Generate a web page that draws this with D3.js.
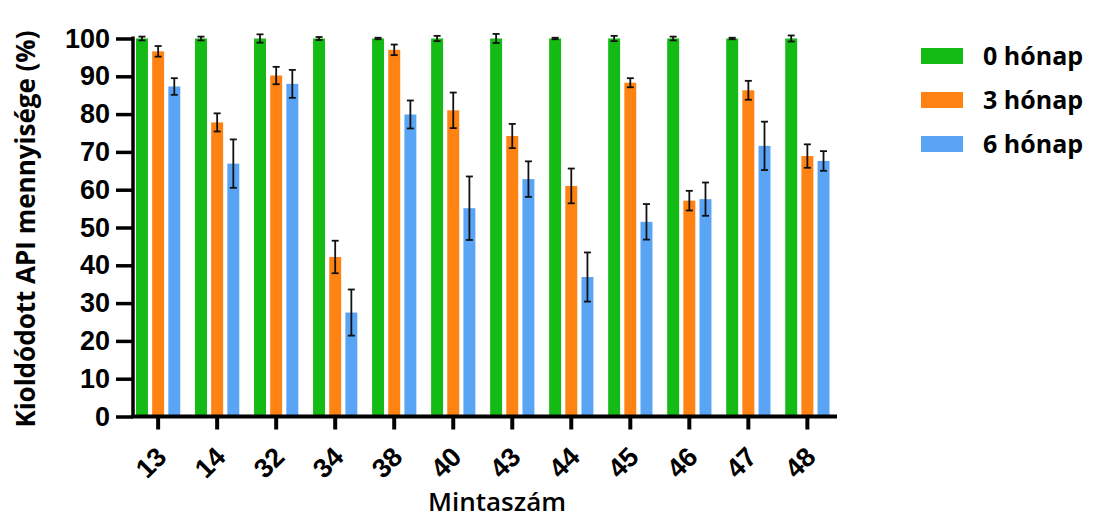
<!DOCTYPE html>
<html>
<head>
<meta charset="utf-8">
<script src="https://cdn.jsdelivr.net/npm/d3@7"></script>
<style>
  body { margin: 0; background: #fff; }
  svg { display: block; font-family: "Open Sans", Arial, sans-serif; }
</style>
</head>
<body>
<div id="chart"></div>
<script>
// Adatok
const minták = ['13', '14', '32', '34', '38', '40', '43', '44', '45', '46', '47', '48'];
const sorozatok = ['0 hónap', '3 hónap', '6 hónap'];
const honap0 = [100, 100, 100, 100, 100, 100, 100, 100, 100, 100, 100, 100];
const honap0Err = [0.5, 0.5, 1.1, 0.4, 0.2, 0.7, 1.2, 0.2, 0.7, 0.5, 0.2, 0.8];
const honap3 = [96.6, 77.8, 90.2, 42.2, 97.0, 81.0, 74.2, 61.0, 88.3, 57.1, 86.3, 68.9];
const honap3Err = [1.4, 2.4, 2.3, 4.3, 1.4, 4.7, 3.2, 4.6, 1.2, 2.6, 2.5, 3.1];
const honap6 = [87.3, 66.9, 88.0, 27.5, 79.9, 55.1, 62.8, 36.9, 51.5, 57.5, 71.6, 67.6];
const honap6Err = [2.2, 6.4, 3.7, 6.1, 3.7, 8.4, 4.7, 6.5, 4.7, 4.4, 6.4, 2.6];
const yTicks = [0, 10, 20, 30, 40, 50, 60, 70, 80, 90, 100];

const COLORS = ['#15bb15', '#ff8312', '#5aa4f6'];

const ertekek = [honap0, honap3, honap6];
const hibak = [honap0Err, honap3Err, honap6Err];

let data = [];
minták.forEach(function(m, i) {
    sorozatok.forEach(function(s, j) {
        data.push({minta: m, sor: s, v: ertekek[j][i], e: hibak[j][i]});
    });
});

const W = 1096, H = 520;
const axisX = 133, axisY = 416.5;

let svg = d3.select('#chart').append('svg')
    .attr('width', W).attr('height', H);

let x = d3.scaleBand()
    .domain(minták)
    .range([136, 829.5])
    .paddingInner(0.25)
    .paddingOuter(0);

let xSub = d3.scaleBand()
    .domain(sorozatok)
    .range([0, x.bandwidth()])
    .paddingInner(0.26);

let y = d3.scaleLinear()
    .domain([0, 100])
    .range([axisY, 38.5]);

let color = d3.scaleOrdinal().domain(sorozatok).range(COLORS);

// Oszlopok
svg.append('g')
    .selectAll('rect')
    .data(data)
    .enter()
    .append('rect')
        .attr('x', function(d) { return x(d.minta) + xSub(d.sor); })
        .attr('y', function(d) { return y(d.v); })
        .attr('width', xSub.bandwidth())
        .attr('height', function(d) { return y(0) - y(d.v); })
        .attr('fill', function(d) { return color(d.sor); });

// Hibasávok
let eb = svg.append('g')
    .attr('stroke', '#111')
    .attr('stroke-width', 1.8)
    .selectAll('g')
    .data(data)
    .enter()
    .append('g');

eb.append('line')
    .attr('x1', function(d) { return x(d.minta) + xSub(d.sor) + xSub.bandwidth() / 2; })
    .attr('x2', function(d) { return x(d.minta) + xSub(d.sor) + xSub.bandwidth() / 2; })
    .attr('y1', function(d) { return y(d.v + d.e); })
    .attr('y2', function(d) { return y(Math.max(0, d.v - d.e)); });

[1, -1].forEach(function(s) {
    eb.append('line')
        .attr('x1', function(d) { return x(d.minta) + xSub(d.sor) + xSub.bandwidth() / 2 - 3.5; })
        .attr('x2', function(d) { return x(d.minta) + xSub(d.sor) + xSub.bandwidth() / 2 + 3.5; })
        .attr('y1', function(d) { return y(d.v + s * d.e); })
        .attr('y2', function(d) { return y(d.v + s * d.e); });
});

// Y tengely
let yAxis = svg.append('g')
    .attr('transform', 'translate(' + axisX + ',0)')
    .call(d3.axisLeft(y).tickValues(yTicks).tickSize(17).tickPadding(6));
yAxis.select('.domain').attr('stroke', '#000').attr('stroke-width', 3.5)
    .attr('d', 'M0,' + (y(100) - 2) + 'V' + (axisY + 1.5));
yAxis.selectAll('.tick line').attr('stroke', '#000').attr('stroke-width', 3.5);
yAxis.selectAll('.tick text')
    .attr('fill', '#000')
    .style('font-family', 'Arial, "Liberation Sans", sans-serif')
    .style('font-size', '27px')
    .style('font-weight', 'bold');

// X tengely
let xAxis = svg.append('g')
    .attr('transform', 'translate(0,' + axisY + ')')
    .call(d3.axisBottom(x).tickSize(13).tickPadding(0));
xAxis.select('.domain').attr('stroke', '#000').attr('stroke-width', 4)
    .attr('d', 'M' + (axisX - 1.5) + ',0H837');
xAxis.selectAll('.tick line').attr('stroke', '#000').attr('stroke-width', 4);
xAxis.selectAll('.tick text')
    .attr('fill', '#000')
    .style('font-size', '27px')
    .style('font-weight', '600')
    .style('text-anchor', 'end')
    .attr('y', 0)
    .attr('dy', '0')
    .attr('transform', 'translate(10,42) rotate(-45)');

// Tengelycímek
svg.append('text')
    .attr('transform', 'translate(35,229) rotate(-90)')
    .attr('text-anchor', 'middle')
    .style('font-size', '26px')
    .style('font-weight', '700')
    .text('Kioldódott API mennyisége (%)');

svg.append('text')
    .attr('x', 497)
    .attr('y', 511)
    .attr('text-anchor', 'middle')
    .style('font-size', '26px')
    .style('font-weight', '600')
    .text('Mintaszám');

// Jelmagyarázat
let legend = svg.append('g')
    .selectAll('g')
    .data(sorozatok)
    .enter()
    .append('g')
    .attr('transform', function(d, i) { return 'translate(921,' + (56 + i * 44) + ')'; });

legend.append('rect')
    .attr('x', 0).attr('y', -8)
    .attr('width', 42).attr('height', 16)
    .attr('fill', function(d) { return color(d); });

legend.append('text')
    .attr('x', 62)
    .attr('y', 9)
    .style('font-size', '25px')
    .style('font-weight', '700')
    .text(function(d) { return d; });
</script>
</body>
</html>
